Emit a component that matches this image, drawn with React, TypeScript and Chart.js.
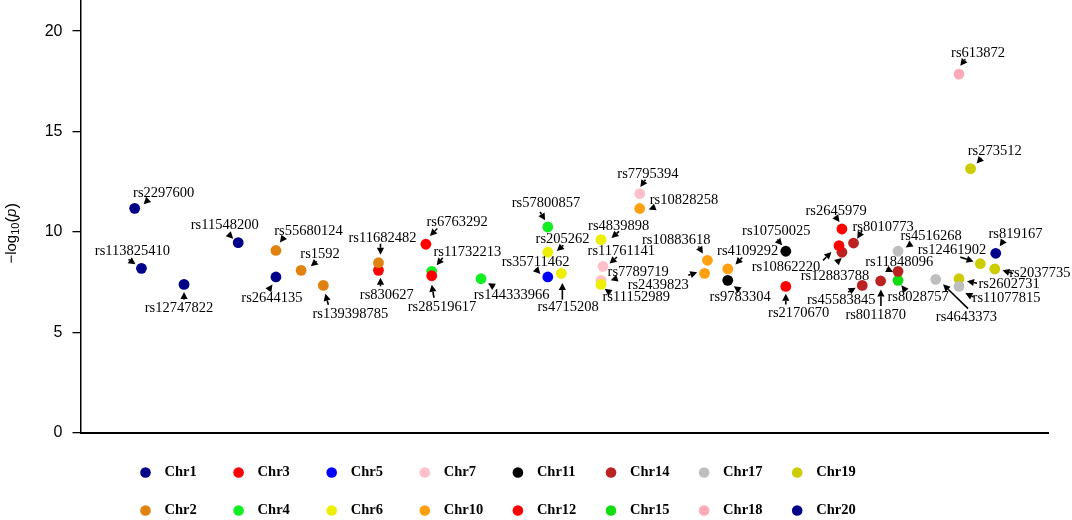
import React, { useEffect, useRef } from "react";
import { Chart, registerables } from "chart.js";

Chart.register(...registerables);

// ---------- data ----------
const chromosomes = ["Chr1", "Chr2", "Chr3", "Chr4", "Chr5", "Chr6", "Chr7", "Chr10", "Chr11", "Chr12", "Chr14", "Chr15", "Chr17", "Chr18", "Chr19", "Chr20"];
const chromosomeColors = ["#000088", "#E0820E", "#FF0000", "#11EE22", "#0000FF", "#EEEE00", "#FFC0CB", "#FFA010", "#000000", "#FF0000", "#BB2222", "#11DD11", "#BEBEBE", "#FFAAB8", "#CCCC00", "#000088"];

const legendRow1 = ["Chr1", "Chr3", "Chr5", "Chr7", "Chr11", "Chr14", "Chr17", "Chr19"];
const legendRow2 = ["Chr2", "Chr4", "Chr6", "Chr10", "Chr12", "Chr15", "Chr18", "Chr20"];

const yTickValues = [0, 5, 10, 15, 20];

const snpIds = [
  "rs2297600", "rs113825410", "rs12747822", "rs11548200", "rs2644135",
  "rs55680124", "rs1592", "rs139398785", "rs11682482",
  "rs830627", "rs6763292", "rs11732213", "rs28519617", "rs144333966",
  "rs57800857", "rs205262", "rs35711462", "rs4715208", "rs4839898",
  "rs11761141", "rs7789719", "rs11152989", "rs7795394", "rs10828258",
  "rs10883618", "rs2439823", "rs4109292", "rs9783304", "rs10750025",
  "rs2170670", "rs2645979", "rs10862220", "rs12883788", "rs8010773",
  "rs45583845", "rs8011870", "rs11848096", "rs8028757", "rs4516268",
  "rs4643373", "rs613872", "rs273512", "rs12461902", "rs2602731",
  "rs11077815", "rs2037735", "rs819167",
];

const snpChromosome = [
  "Chr1", "Chr1", "Chr1", "Chr1", "Chr1",
  "Chr2", "Chr2", "Chr2", "Chr2",
  "Chr3", "Chr3", "Chr4", "Chr3", "Chr4",
  "Chr4", "Chr6", "Chr5", "Chr6", "Chr6",
  "Chr7", "Chr7", "Chr6", "Chr7", "Chr10",
  "Chr10", "Chr10", "Chr10", "Chr11", "Chr11",
  "Chr12", "Chr12", "Chr12", "Chr14", "Chr14",
  "Chr14", "Chr14", "Chr14", "Chr15", "Chr17",
  "Chr17", "Chr18", "Chr19", "Chr19", "Chr19",
  "Chr17", "Chr19", "Chr20",
];

// cumulative genomic position (relative units)
const snpPosition = [
  5.6, 6.3, 10.7, 16.3, 20.2,
  20.2, 22.8, 25.1, 30.8,
  30.8, 35.7, 36.3, 36.3, 41.4,
  48.3, 48.3, 48.3, 49.7, 53.8,
  54.0, 53.8, 53.8, 57.8, 57.8,
  64.8, 64.5, 66.9, 66.9, 72.9,
  72.9, 78.7, 78.4, 78.7, 79.9,
  80.8, 82.7, 84.5, 84.5, 84.5,
  88.4, 90.8, 92.0, 93.0, 90.8,
  90.8, 94.5, 94.6,
];

// -log10(p)
const snpLogP = [
  11.17, 8.18, 7.38, 9.46, 7.75,
  9.07, 8.08, 7.33, 8.46,
  8.08, 9.38, 8.03, 7.81, 7.66,
  10.24, 8.98, 7.75, 7.93, 9.61,
  8.28, 7.58, 7.38, 11.9, 11.16,
  8.58, 7.93, 8.15, 7.58, 9.03,
  7.28, 10.14, 9.31, 8.98, 9.44,
  7.33, 7.55, 8.03, 7.58, 9.03,
  7.63, 17.86, 13.15, 8.41, 7.66,
  7.28, 8.15, 8.93,
];

// ---------- annotation layout (pixel offsets from each point) ----------
// [text centre dx, dy, arrow tail dx, dy, arrow tip dx, dy]
const labelLayout: number[][] = [
  [29, -15, 14, -9, 9, -4],
  [-9, -17, -13, -9, -6, -4],
  [-5, 24, 0, 15, 0, 7.5],
  [-13.5, -17, -10, -9, -5, -4],
  [-4, 21, -7, 12.6, -3.5, 7.6],
  [32.5, -19.3, 8, -13.3, 4, -8],
  [19, -15.7, 15.7, -9, 9.7, -4],
  [27, 29, 5, 19.3, 2, 8.3],
  [4, -24.6, 2, -19, 2, -8],
  [8.3, 25, 2, 16, 2, 7.3],
  [31.2, -22, 11.4, -15.7, 4, -8.3],
  [35.7, -19.3, 11, -13.7, 5, -6],
  [10.3, 31.4, 2.3, 22, 0, 9],
  [30.5, 16, 12.3, 7.7, 7, 4.5],
  [-1.9, -24, -7.7, -15, -2.7, -6.7],
  [14.8, -12.7, 15.6, -7, 9, -1.3],
  [-12.2, -14.7, -11.7, -7.7, -7.5, -3],
  [6.8, 33.7, 1, 26.3, 1, 9.7],
  [17.7, -13.6, 18, -8.3, 10.4, -1.6],
  [18.3, -14.7, 14, -9.3, 6.6, -2.7],
  [37.2, -8.3, 16.4, -2.3, 9.7, 0],
  [35.2, 12.7, 9.7, 8.7, 3.7, 4.3],
  [8.2, -19.3, 5.7, -14, 0.7, -6.6],
  [44.2, -8.3, 15.7, -1.6, 9, 1],
  [-31.3, -20, -9, -14, -4.6, -6.7],
  [-46.3, 12, -16.3, 2, -7.3, -1],
  [19.9, -17.7, 14.4, -11.4, 7.7, -4.4],
  [12.4, 17.3, 12, 10, 6, 6],
  [-9.5, -20, -8.6, -11.7, -3.6, -6],
  [12.9, 26.3, 0, 18, 0, 7.3],
  [-5.9, -18, -6.7, -12.7, -2.4, -7],
  [-53.1, 21.4, -16, 14.7, -7.6, 6.4],
  [-7, 24, -4.7, 9.7, -0.3, 5.7],
  [29.5, -16, 8.7, -12.7, 3.7, -4.4],
  [-21, 14.3, -14, 6.7, -6.6, 2.3],
  [-4.9, 34.3, 0.3, 25, 0.3, 8.6],
  [1.2, -9.3, -11.6, -2.7, -5, 0.7],
  [20, 17.3, 6.7, 9.3, 3.4, 5],
  [33, -15, 13.4, -7.7, 7.7, -3.7],
  [30.7, 38.3, 32.3, 29.3, 7.3, 5],
  [19.1, -21.3, 6.3, -14.7, 1.3, -8.3],
  [24.1, -17.6, 11, -10.6, 6, -5],
  [-28.3, -13.3, -20, -6.6, -6.7, -2.3],
  [50.1, 5.7, 18, 4.4, 8, 2.4],
  [47.6, 11.3, 14.6, 10.7, 6.3, 6.7],
  [45, 4, 18.3, 4.6, 7.7, 1.3],
  [19.7, -19, 7.4, -12, 4, -7],
];

const SERIF = '"Liberation Serif", "Times New Roman", serif';
const SANS = '"Liberation Sans", Arial, sans-serif';

function colorOf(chr: string): string {
  return chromosomeColors[chromosomes.indexOf(chr)];
}

function drawArrow(ctx: CanvasRenderingContext2D, x1: number, y1: number, x2: number, y2: number) {
  const ang = Math.atan2(y2 - y1, x2 - x1);
  const headLen = 7;
  const headHalf = 3.6;
  const bx = x2 - headLen * Math.cos(ang);
  const by = y2 - headLen * Math.sin(ang);
  ctx.beginPath();
  ctx.moveTo(x1, y1);
  ctx.lineTo(bx, by);
  ctx.lineWidth = 1.6;
  ctx.stroke();
  ctx.beginPath();
  ctx.moveTo(x2, y2);
  ctx.lineTo(bx + headHalf * Math.sin(ang), by - headHalf * Math.cos(ang));
  ctx.lineTo(bx - headHalf * Math.sin(ang), by + headHalf * Math.cos(ang));
  ctx.closePath();
  ctx.fill();
}

const labelPlugin = {
  id: "snpLabels",
  afterDatasetsDraw(chart: any) {
    const ctx: CanvasRenderingContext2D = chart.ctx;
    ctx.save();
    ctx.fillStyle = "#000";
    ctx.strokeStyle = "#000";
    ctx.font = `14.5px ${SERIF}`;
    ctx.textAlign = "center";
    ctx.textBaseline = "middle";
    chart.data.datasets.forEach((ds: any, di: number) => {
      const meta = chart.getDatasetMeta(di);
      meta.data.forEach((el: any, j: number) => {
        const raw = ds.data[j];
        const lay = labelLayout[raw.idx];
        const px = el.x;
        const py = el.y;
        ctx.fillText(raw.id, px + lay[0], py + lay[1]);
        drawArrow(ctx, px + lay[2], py + lay[3], px + lay[4], py + lay[5]);
      });
    });
    ctx.restore();
  },
};

const decorPlugin = {
  id: "decor",
  afterDraw(chart: any) {
    const ctx: CanvasRenderingContext2D = chart.ctx;
    const area = chart.chartArea;
    ctx.save();
    // y-axis title: −log10(p)
    const cy = (area.top + area.bottom) / 2 + 17;
    ctx.translate(12, cy);
    ctx.rotate(-Math.PI / 2);
    ctx.fillStyle = "#000";
    ctx.textBaseline = "middle";
    ctx.textAlign = "left";
    const mainFont = `15px ${SANS}`;
    const subFont = `11px ${SANS}`;
    const parFont = `17px ${SANS}`;
    const italFont = `italic 15px ${SANS}`;
    const parts: [string, string, number][] = [
      ["\u2212log", mainFont, 0],
      ["10", subFont, 4],
      ["(", parFont, 0],
      ["p", italFont, 0],
      [")", parFont, 0],
    ];
    let total = 0;
    parts.forEach(([t, f]) => { ctx.font = f; total += ctx.measureText(t).width; });
    let x = -total / 2;
    parts.forEach(([t, f, dy]) => {
      ctx.font = f;
      ctx.fillText(t, x, dy);
      x += ctx.measureText(t).width;
    });
    ctx.restore();

    // legend
    ctx.save();
    ctx.font = `bold 14.5px ${SERIF}`;
    ctx.textBaseline = "middle";
    ctx.textAlign = "left";
    const rows = [legendRow1, legendRow2];
    const rowY = [472.5, 510.5];
    rows.forEach((row, r) => {
      row.forEach((chr, i) => {
        const mx = 145.5 + i * 93.1;
        ctx.fillStyle = colorOf(chr);
        ctx.beginPath();
        ctx.arc(mx, rowY[r], 5.3, 0, Math.PI * 2);
        ctx.fill();
        ctx.fillStyle = "#000";
        ctx.fillText(chr, mx + 19, rowY[r]);
      });
    });
    ctx.restore();
  },
};

export default function App() {
  const canvasRef = useRef<HTMLCanvasElement | null>(null);

  useEffect(() => {
    if (!canvasRef.current) return;
    const datasets = chromosomes.map((chr, ci) => {
      const data: any[] = [];
      snpIds.forEach((id, k) => {
        if (snpChromosome[k] === chr) {
          data.push({ x: snpPosition[k], y: snpLogP[k], id, idx: k });
        }
      });
      return {
        label: chr,
        data,
        backgroundColor: chromosomeColors[ci],
        borderWidth: 0,
        pointRadius: 5.4,
        pointHoverRadius: 5.4,
        showLine: false,
      };
    });

    const chart = new Chart(canvasRef.current, {
      type: "scatter",
      data: { datasets },
      options: {
        animation: false,
        responsive: false,
        maintainAspectRatio: false,
        events: [],
        layout: { autoPadding: false, padding: { top: 0, right: 24, left: 0, bottom: 0 } },
        plugins: {
          legend: { display: false },
          tooltip: { enabled: false },
        },
        scales: {
          x: {
            type: "linear",
            min: 0,
            max: 100,
            ticks: { display: false },
            grid: { display: false, drawTicks: false },
            border: { display: true, color: "#000", width: 2 },
            afterFit: (scale: any) => {
              scale.height = 87.5;
              scale.paddingLeft = 0;
              scale.paddingRight = 0;
            },
          },
          y: {
            type: "linear",
            min: 0,
            max: 21.55,
            afterBuildTicks: (scale: any) => {
              scale.ticks = yTickValues.map((v) => ({ value: v }));
            },
            ticks: {
              color: "#000",
              padding: 10,
              font: { family: SANS, size: 16 },
            },
            grid: {
              display: true,
              drawOnChartArea: false,
              drawTicks: true,
              tickLength: 8,
              color: "#000",
              lineWidth: 1.3,
            },
            border: { display: true, color: "#000", width: 1.5 },
            afterFit: (scale: any) => {
              scale.width = 80.5;
              scale.paddingTop = 0;
              scale.paddingBottom = 0;
            },
          },
        },
      },
      plugins: [labelPlugin, decorPlugin],
    } as any);

    return () => chart.destroy();
  }, []);

  return (
    <div style={{ position: "absolute", left: 0, top: 0, width: 1072, height: 520, background: "#fff" }}>
      <canvas ref={canvasRef} width={1072} height={520} style={{ width: 1072, height: 520, display: "block" }} />
    </div>
  );
}
